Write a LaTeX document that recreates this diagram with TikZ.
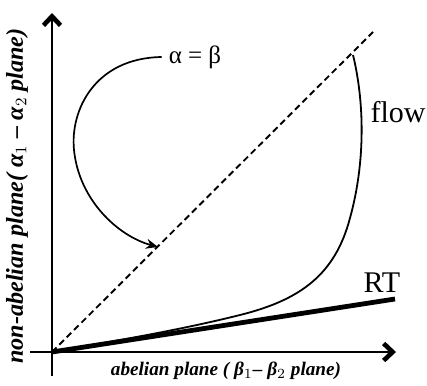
\documentclass[tikz,border=0pt]{standalone}
\usepackage{fontspec}
\setmainfont{Liberation Serif}
\usepackage{tikz}
\usetikzlibrary{arrows.meta, positioning}
\tikzset{
    % axes and lines
    axisarrow/.style={
        line width=1.3pt,
        -{Straight Barb[length=4.5pt,width=8.5pt,line width=2.3pt]}
    },
    diagline/.style={
        line width=0.95pt,
        dash pattern=on 3.2pt off 2pt
    },
    flowline/.style={
        line width=0.9pt
    },
    rtline/.style={
        line width=2.4pt
    },
    pointer/.style={
        line width=0.85pt,
        -{Stealth[length=6pt,width=5pt]}
    },
    % labels
    curvelabel/.style={
        font=\fontsize{15}{18}\selectfont
    },
    axislabel/.style={
        font=\fontsize{9.6}{12}\selectfont\bfseries\itshape
    }
}
\begin{document}
\begin{tikzpicture}[x=0.5pt, y=-0.5pt]
    \useasboundingbox (0,0) rectangle (427,385);

    \coordinate (O) at (52,352);
    \coordinate (xs) at (30,352);
    \coordinate (xe) at (396,352);
    \coordinate (ys) at (52,376);
    \coordinate (ye) at (52,13);
    \coordinate (dtop) at (373,32);
    \coordinate (ftop) at (353,55);
    \coordinate (fmid) at (350,218);
    \coordinate (flow) at (240,315);
    \coordinate (rtend) at (395,299);
    \coordinate (hit) at (158,247);

    % axes
    \draw[axisarrow] (xs) -- (xe);
    \draw[axisarrow] (ys) -- (ye);

    % alpha = beta line
    \draw[diagline] (O) -- (dtop);

    % RT and flow
    \draw[rtline] (O) -- (rtend);
    \draw[flowline] (ftop) .. controls (364,100) and (366,160) .. (fmid)
        .. controls (335,275) and (300,300) .. (flow)
        .. controls (180,330) and (120,340) .. (O);

    % labels
    \node[font=\fontsize{12.5}{15}\selectfont] (eq) at (195,57) {α = β};
    \node[curvelabel] (flowlab) at (398,112) {flow};
    \node[curvelabel] (rt) at (382,283) {RT};
    \node[axislabel] (xlab) at (226,371) {abelian plane ( β$_1$– β$_2$ plane)};
    \node[axislabel, font=\fontsize{12.1}{14}\selectfont\bfseries\itshape, rotate=90] (ylab) at (17,196)
        {non-abelian plane( α$_1$ – α$_2$ plane)};

    \draw[pointer] (eq.west) .. controls (95,58) and (70,110) .. (74,150)
        .. controls (79,200) and (118,236) .. (hit);
\end{tikzpicture}
\end{document}
